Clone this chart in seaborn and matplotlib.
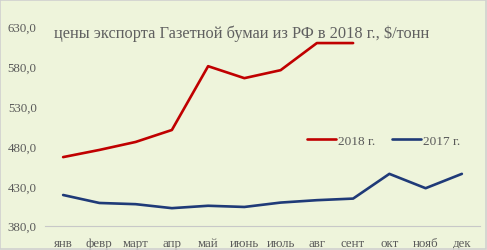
import matplotlib
matplotlib.use("Agg")
import matplotlib.pyplot as plt
import seaborn as sns
import pandas as pd
from matplotlib.ticker import FuncFormatter
from matplotlib.patches import Rectangle

months = ["янв", "февр", "март", "апр", "май", "июнь", "июль", "авг", "сент", "окт", "нояб", "дек"]
prices_2018 = [466, 475, 485, 500, 580, 565, 575, 609, 609]
prices_2017 = [418.5, 408.5, 407, 402, 405, 403.5, 409, 412, 414, 445, 427, 445]
series_labels = ["2018 г.", "2017 г."]
title = "цены экспорта Газетной бумаи из РФ в 2018 г., $/тонн"

rows = []
for m, v in zip(months, prices_2018):
    rows.append({"month": m, "price": v, "year": series_labels[0]})
for m, v in zip(months, prices_2017):
    rows.append({"month": m, "price": v, "year": series_labels[1]})
df = pd.DataFrame(rows)
df["x"] = df["month"].map({m: i for i, m in enumerate(months)})

sns.set_theme(style="white")
plt.rcParams["font.family"] = ["Liberation Serif", "DejaVu Serif"]

bg = "#EEF4DB"
fig = plt.figure(figsize=(4.87, 2.51), dpi=100, facecolor=bg)
ax = fig.add_axes([0.0924, 0.0968, 0.8932, 0.7944])
ax.set_facecolor(bg)

palette = {series_labels[0]: "#C00000", series_labels[1]: "#1F3A78"}
sns.lineplot(data=df, x="x", y="price", hue="year", palette=palette,
             linewidth=1.9, ax=ax, sort=False, legend=True)

ax.set_xlim(-0.5, 11.5)
ax.set_ylim(380, 630)
ax.set_yticks([380, 430, 480, 530, 580, 630])
ax.yaxis.set_major_formatter(FuncFormatter(lambda v, p: f"{v:.1f}".replace(".", ",")))
ax.set_xticks(range(len(months)))
ax.set_xticklabels(months)
ax.tick_params(axis="both", labelsize=9.3, colors="#595959", length=0, pad=6)
ax.tick_params(axis="x", pad=8)
ax.set_xlabel("")
ax.set_ylabel("")
for s in ["top", "right", "left"]:
    ax.spines[s].set_visible(False)
ax.spines["bottom"].set_color("#C8C8C8")
ax.spines["bottom"].set_linewidth(0.8)
ax.grid(False)

ax.text(0.453, 0.97, title, transform=ax.transAxes, ha="center", va="center",
        fontsize=11.8, color="#606060")

leg = ax.legend(loc="center", bbox_to_anchor=(0.778, 0.425), ncol=2, frameon=False,
                fontsize=9.5, handlelength=2.2, handletextpad=0.15, columnspacing=1.3)
for t in leg.get_texts():
    t.set_color("#595959")

fig.patches.append(Rectangle((0.001, 0.002), 0.997, 0.995, transform=fig.transFigure,
                             fill=False, edgecolor="#D0D0D0", linewidth=1.2))

fig.savefig("out.png", dpi=100, facecolor=bg)
